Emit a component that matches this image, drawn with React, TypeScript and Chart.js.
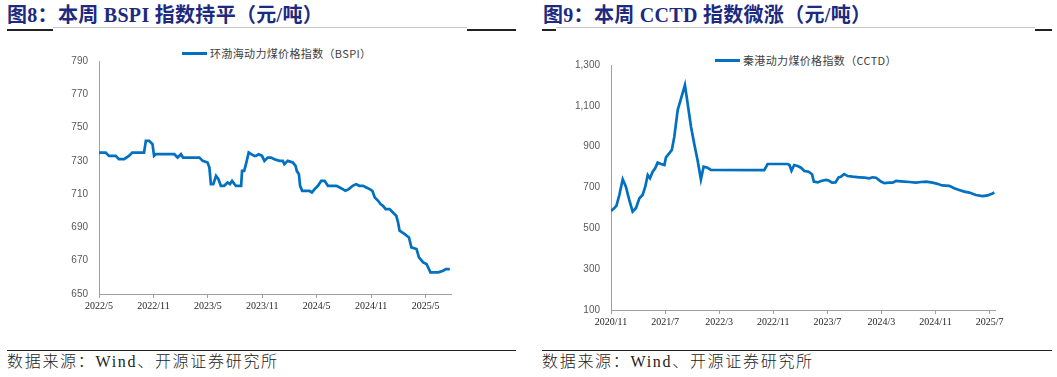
import React, { useEffect, useRef } from "react";
import { Chart, registerables } from "chart.js";

Chart.register(...registerables);

// ---------------- Data ----------------
const bspiTitle = "图8：本周 BSPI 指数持平（元/吨）";
const bspiLegend = "环渤海动力煤价格指数（BSPI）";
const bspiDates = [
  "2022-05-01", "2022-05-23", "2022-06-04", "2022-06-26", "2022-07-07", "2022-07-24", "2022-08-10", "2022-08-21",
  "2022-09-30", "2022-10-06", "2022-10-17", "2022-10-28", "2022-11-03", "2022-11-09", "2023-01-10", "2023-01-21",
  "2023-02-02", "2023-02-09", "2023-04-03", "2023-04-14", "2023-04-30", "2023-05-06", "2023-05-11", "2023-05-19",
  "2023-05-28", "2023-06-06", "2023-06-14", "2023-06-25", "2023-07-06", "2023-07-14", "2023-07-21", "2023-07-29",
  "2023-08-04", "2023-08-21", "2023-08-24", "2023-09-01", "2023-09-07", "2023-09-16", "2023-09-24", "2023-10-05",
  "2023-10-10", "2023-10-19", "2023-10-30", "2023-11-08", "2023-11-19", "2023-11-30", "2023-12-11", "2023-12-28",
  "2024-01-09", "2024-01-14", "2024-01-25", "2024-02-12", "2024-02-21", "2024-02-25", "2024-03-02", "2024-03-06",
  "2024-03-13", "2024-03-26", "2024-04-07", "2024-04-15", "2024-04-24", "2024-05-05", "2024-05-16", "2024-05-27",
  "2024-06-08", "2024-06-24", "2024-07-06", "2024-07-17", "2024-07-27", "2024-08-06", "2024-08-17", "2024-08-30",
  "2024-09-11", "2024-09-22", "2024-10-04", "2024-10-15", "2024-10-26", "2024-11-05", "2024-11-13", "2024-11-24",
  "2024-12-02", "2024-12-10", "2024-12-19", "2025-01-02", "2025-01-13", "2025-01-24", "2025-01-30", "2025-02-05",
  "2025-02-22", "2025-03-06", "2025-03-14", "2025-03-31", "2025-04-09", "2025-04-23", "2025-05-04", "2025-05-17",
  "2025-06-01", "2025-06-13", "2025-06-29", "2025-07-08", "2025-07-21",
];
const bspiValues = [
  735, 735, 733, 733, 731, 731, 733, 735,
  735, 742, 742, 740, 733, 734, 734, 732,
  734, 732, 732, 730, 729, 726, 716, 716,
  721, 719, 715, 715, 717, 716, 718, 716,
  715, 715, 724, 724, 728, 735, 734, 733,
  733, 734, 733, 730, 732, 732, 731, 730,
  730, 728, 730, 729, 727, 724, 722, 715,
  712, 712, 712, 711, 713, 715, 718, 718,
  715, 715, 715, 714, 713, 712, 713, 715,
  716, 715, 715, 714, 713, 712, 708, 706,
  704, 703, 701, 701, 699, 697, 693, 688,
  686, 684, 678, 677, 672, 669, 668, 663,
  663, 663, 664, 665, 665,
];
const bspiTickLabels = ["2022/5", "2022/11", "2023/5", "2023/11", "2024/5", "2024/11", "2025/5"];
const bspiAxisEnd = "2025-07-25";
const bspiYMin = 650;
const bspiYMax = 790;
const bspiYStep = 20;

const cctdTitle = "图9：本周 CCTD 指数微涨（元/吨）";
const cctdLegend = "秦港动力煤价格指数（CCTD）";
const cctdDates = [
  "2020-11-01", "2020-11-16", "2020-11-25", "2020-12-08", "2020-12-23", "2021-01-07", "2021-01-22", "2021-02-07",
  "2021-02-22", "2021-03-07", "2021-03-21", "2021-04-03", "2021-04-14", "2021-04-24", "2021-05-06", "2021-05-17",
  "2021-05-28", "2021-06-13", "2021-06-28", "2021-07-05", "2021-07-20", "2021-08-01", "2021-08-12", "2021-08-27",
  "2021-09-12", "2021-09-29", "2021-10-11", "2021-10-26", "2021-11-10", "2021-11-25", "2021-12-10", "2021-12-22",
  "2022-01-09", "2022-01-24", "2022-09-21", "2022-10-06", "2023-01-05", "2023-01-13", "2023-01-22", "2023-02-04",
  "2023-02-19", "2023-03-04", "2023-03-19", "2023-04-08", "2023-04-23", "2023-05-01", "2023-05-18", "2023-06-03",
  "2023-06-25", "2023-07-07", "2023-07-22", "2023-08-07", "2023-08-21", "2023-09-01", "2023-09-16", "2023-10-01",
  "2023-10-23", "2023-11-23", "2023-12-16", "2024-01-07", "2024-01-22", "2024-02-07", "2024-02-29", "2024-03-14",
  "2024-04-06", "2024-04-21", "2024-05-06", "2024-05-28", "2024-07-05", "2024-08-04", "2024-08-27", "2024-09-19",
  "2024-10-18", "2024-11-10", "2024-11-30", "2025-01-02", "2025-01-24", "2025-02-16", "2025-03-09", "2025-04-01",
  "2025-04-30", "2025-05-30", "2025-06-22", "2025-07-14", "2025-07-22",
];
const cctdValues = [
  585, 600, 610, 663, 740, 704, 639, 582,
  600, 647, 663, 704, 761, 745, 777, 794,
  822, 815, 810, 848, 868, 884, 949, 1080,
  1137, 1202, 1112, 998, 916, 835, 740, 802,
  797, 786, 785, 815, 815, 810, 782, 810,
  805, 797, 781, 777, 765, 729, 725, 732,
  737, 734, 724, 725, 750, 753, 766, 756,
  753, 750, 748, 745, 750, 748, 729, 721,
  724, 724, 732, 730, 727, 724, 727, 729,
  724, 718, 710, 708, 696, 688, 680, 675,
  663, 658, 661, 671, 675,
];
const cctdTickLabels = ["2020/11", "2021/7", "2022/3", "2022/11", "2023/7", "2024/3", "2024/11", "2025/7"];
const cctdAxisEnd = "2025-07-25";
const cctdYMin = 100;
const cctdYMax = 1300;
const cctdYStep = 200;

const sourceText = "数据来源：Wind、开源证券研究所";

// ---------------- Helpers ----------------
const LINE_COLOR = "#0070c0";
const AXIS_COLOR = "#a0a0a0";

function monthsSince(dateStr: string, baseLabel: string): number {
  const [y, m, d] = dateStr.split(/[-\/]/).map(Number);
  const [by, bm] = baseLabel.split("/").map(Number);
  return (y - by) * 12 + (m - bm) + ((d || 1) - 1) / 30;
}

type ChartProps = {
  dates: string[];
  values: number[];
  tickLabels: string[];
  axisEnd: string;
  yMin: number;
  yMax: number;
  yStep: number;
  width: number;
  height: number;
  yAxisWidth: number;
  xAxisHeight: number;
  padRight: number;
};

function LineChart(p: ChartProps) {
  const ref = useRef<HTMLCanvasElement | null>(null);
  useEffect(() => {
    if (!ref.current) return;
    const base = p.tickLabels[0];
    const points = p.dates.map((d, i) => ({ x: monthsSince(d, base), y: p.values[i] }));
    const tickVals = p.tickLabels.map((l) => monthsSince(l, base));
    const chart = new Chart(ref.current, {
      type: "line",
      data: {
        datasets: [
          {
            data: points,
            borderColor: LINE_COLOR,
            backgroundColor: LINE_COLOR,
            borderWidth: 2.7,
            pointRadius: 0,
            tension: 0,
            fill: false,
          },
        ],
      },
      options: {
        animation: false,
        responsive: false,
        maintainAspectRatio: false,
        layout: { padding: { top: 0, right: p.padRight, bottom: 0, left: 0 } },
        plugins: { legend: { display: false }, tooltip: { enabled: false } },
        scales: {
          x: {
            type: "linear",
            min: 0,
            max: monthsSince(p.axisEnd, base),
            afterBuildTicks: (s: any) => {
              s.ticks = tickVals.map((v) => ({ value: v }));
            },
            afterFit: (s: any) => {
              s.height = p.xAxisHeight;
            },
            ticks: {
              autoSkip: false,
              maxRotation: 0,
              padding: 2,
              color: "#262626",
              font: { family: '"Liberation Serif", "Times New Roman", serif', size: 10 },
              callback: (_v: any, i: number) => p.tickLabels[i],
            },
            grid: { drawOnChartArea: false, drawTicks: true, tickLength: 4, color: AXIS_COLOR },
            border: { display: true, color: AXIS_COLOR, width: 1 },
          },
          y: {
            type: "linear",
            min: p.yMin,
            max: p.yMax,
            afterFit: (s: any) => {
              s.width = p.yAxisWidth;
            },
            ticks: {
              stepSize: p.yStep,
              padding: 11,
              color: "#595959",
              font: { family: '"Liberation Sans", Arial, sans-serif', size: 10 },
              callback: (v: any) => Number(v).toLocaleString("en-US"),
            },
            grid: { drawOnChartArea: false, drawTicks: false },
            border: { display: true, color: AXIS_COLOR, width: 1 },
          },
        },
      },
    } as any);
    return () => chart.destroy();
  }, []);
  return (
    <canvas
      ref={ref}
      width={p.width}
      height={p.height}
      style={{ width: p.width, height: p.height, display: "block" }}
    />
  );
}

const abs = (l: number, t: number): React.CSSProperties => ({ position: "absolute", left: l, top: t });

function Legend({ left, top, text }: { left: number; top: number; text: string }) {
  return (
    <div style={{ ...abs(left, top), display: "flex", alignItems: "center", whiteSpace: "nowrap" }}>
      <div style={{ width: 25, height: 3, background: LINE_COLOR, marginRight: 3 }} />
      <span
        style={{
          fontFamily: '"Noto Sans CJK SC", sans-serif',
          fontSize: 11,
          letterSpacing: 0.35,
          color: "#404040",
          lineHeight: "14px",
        }}
      >
        {text}
      </span>
    </div>
  );
}

function Rule({ l, t, w, h, c }: { l: number; t: number; w: number; h: number; c: string }) {
  return <div style={{ ...abs(l, t), width: w, height: h, background: c }} />;
}

const titleStyle: React.CSSProperties = {
  position: "absolute",
  fontFamily: '"Liberation Serif", "Noto Sans CJK SC", serif',
  fontWeight: 700,
  fontSize: 20,
  lineHeight: "22px",
  letterSpacing: 0.3,
  color: "#1c2a80",
  whiteSpace: "nowrap",
};

const sourceStyle: React.CSSProperties = {
  position: "absolute",
  fontFamily: '"Liberation Serif", "Noto Sans CJK SC", serif',
  fontSize: 16,
  lineHeight: "18px",
  letterSpacing: 1.7,
  fontWeight: 300,
  color: "#222",
  whiteSpace: "nowrap",
};

export default function App() {
  return (
    <div style={{ position: "relative", width: 1057, height: 377, background: "#fff", overflow: "hidden" }}>
      <style>{`body{margin:0;background:#fff}`}</style>

      {/* Left panel */}
      <div style={{ ...titleStyle, left: 7, top: 4 }}>{bspiTitle}</div>
      <Rule l={7} t={29} w={46} h={2} c="#222" />
      <Rule l={53} t={27} w={414} h={1} c="#c8c8c8" />
      <Rule l={467} t={29} w={49} h={2} c="#222" />
      <Legend left={182} top={46} text={bspiLegend} />
      <div style={abs(40, 44)}>
        <LineChart
          dates={bspiDates}
          values={bspiValues}
          tickLabels={bspiTickLabels}
          axisEnd={bspiAxisEnd}
          yMin={bspiYMin}
          yMax={bspiYMax}
          yStep={bspiYStep}
          width={430}
          height={283}
          yAxisWidth={59}
          xAxisHeight={33}
          padRight={19}
        />
      </div>
      <Rule l={7} t={350} w={509} h={1} c="#222" />
      <div style={{ ...sourceStyle, left: 7, top: 353 }}>{sourceText}</div>

      {/* Right panel */}
      <div style={{ ...titleStyle, left: 543, top: 4 }}>{cctdTitle}</div>
      <Rule l={542} t={29} w={14} h={2} c="#222" />
      <Rule l={556} t={27} w={479} h={1} c="#c8c8c8" />
      <Rule l={1035} t={29} w={17} h={2} c="#222" />
      <Legend left={715} top={53} text={cctdLegend} />
      <div style={abs(560, 48)}>
        <LineChart
          dates={cctdDates}
          values={cctdValues}
          tickLabels={cctdTickLabels}
          axisEnd={cctdAxisEnd}
          yMin={cctdYMin}
          yMax={cctdYMax}
          yStep={cctdYStep}
          width={450}
          height={292}
          yAxisWidth={51}
          xAxisHeight={30}
          padRight={15}
        />
      </div>
      <Rule l={542} t={350} w={510} h={1} c="#222" />
      <div style={{ ...sourceStyle, left: 542, top: 353 }}>{sourceText}</div>
    </div>
  );
}
